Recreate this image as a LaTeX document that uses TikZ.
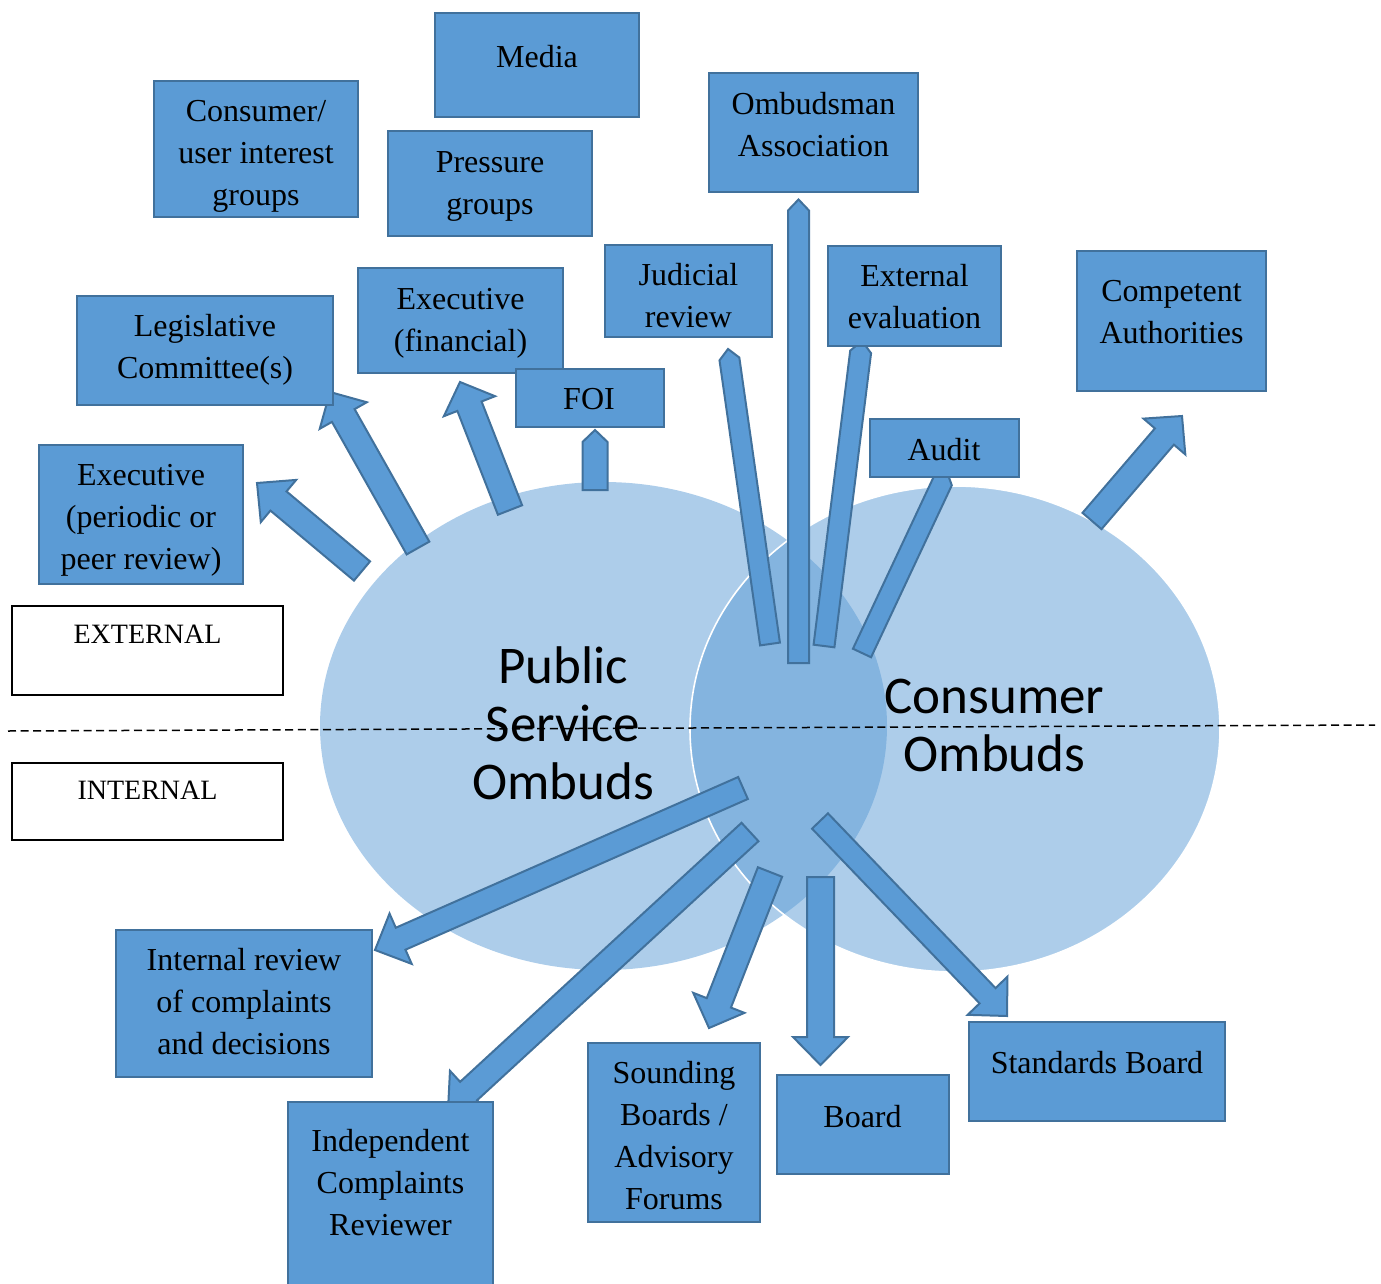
\documentclass[tikz,border=0pt]{standalone}
\usepackage{fontspec}
\setmainfont{Liberation Serif}
\newfontfamily\ombsans{Carlito}
\usetikzlibrary{shapes.geometric}
\definecolor{boxfill}{HTML}{5B9BD5}
\definecolor{boxline}{HTML}{41719C}
\tikzset{
  box/.style={draw=boxline, fill=boxfill, line width=1.1pt, inner sep=0pt},
  side/.style={draw=black, fill=white, line width=0.8pt, inner sep=0pt},
  lbl/.style={align=center, inner sep=0pt, yshift=-0.75pt, font=\fontsize{16}{21}\selectfont},
  sidelbl/.style={inner sep=0pt, font=\fontsize{14}{17}\selectfont},
  bigtxt/.style={align=center, inner sep=0pt, font=\ombsans\fontsize{26.5}{29}\selectfont},
  blk/.style={draw=boxline, fill=boxfill, line width=1pt, line join=miter},
  dashline/.style={draw=black, line width=0.75pt, dash pattern=on 4pt off 2.3pt},
}
\newcommand\bbox[6][box]{%
  \pgfmathsetmacro\bxW{(#5-#3)*0.5-1}%
  \pgfmathsetmacro\bxH{(#6-#4)*0.5-1}%
  \node[#1, minimum width=\bxW pt, minimum height=\bxH pt] (#2) at ({(#3+#5)/2},{(#4+#6)/2}) {};}
\newcommand\blockarrow[5]{%
  \path (#1); \pgfgetlastxy{\arTxd}{\arTyd}%
  \path (#2); \pgfgetlastxy{\arHxd}{\arHyd}%
  \pgfmathsetmacro\arTx{\arTxd}%
  \pgfmathsetmacro\arTy{\arTyd}%
  \pgfmathsetmacro\arHx{\arHxd}%
  \pgfmathsetmacro\arHy{\arHyd}%
  \pgfmathsetmacro\arL{veclen(\arHx-\arTx,\arHy-\arTy)}%
  \pgfmathsetmacro\arUx{(\arHx-\arTx)/\arL}%
  \pgfmathsetmacro\arUy{(\arHy-\arTy)/\arL}%
  \pgfmathsetmacro\arW{#3*0.25}%
  \pgfmathsetmacro\arV{#4*0.25}%
  \pgfmathsetmacro\arBx{\arTx+(\arUx)*(\arL-#5*0.5)}%
  \pgfmathsetmacro\arBy{\arTy+(\arUy)*(\arL-#5*0.5)}%
  \begin{scope}[x=1pt,y=1pt]
  \draw[blk] ({\arTx-(\arUy)*\arW},{\arTy+(\arUx)*\arW})
    -- ({\arBx-(\arUy)*\arW},{\arBy+(\arUx)*\arW})
    -- ({\arBx-(\arUy)*\arV},{\arBy+(\arUx)*\arV})
    -- (\arHx,\arHy)
    -- ({\arBx+(\arUy)*\arV},{\arBy-(\arUx)*\arV})
    -- ({\arBx+(\arUy)*\arW},{\arBy-(\arUx)*\arW})
    -- ({\arTx+(\arUy)*\arW},{\arTy-(\arUx)*\arW}) -- cycle;
  \end{scope}%
}
\begin{document}
\begin{tikzpicture}[x=0.5pt,y=-0.5pt]
\useasboundingbox (0,0) rectangle (1381,1284);
% circles
\node[ellipse, fill=boxfill, fill opacity=0.5, inner sep=0pt, minimum width=283.5pt, minimum height=244pt] (pso) at (603.5,726) {};
\node[ellipse, draw=white, line width=0.8pt, fill=boxfill, fill opacity=0.5, draw opacity=1, inner sep=0pt, minimum width=265pt, minimum height=243pt] (co) at (955,729) {};
% divider
\coordinate (dl) at (8,731);
\coordinate (dr) at (1375,725);
\draw[dashline] (dl) -- (dr);
% arrow ends
\coordinate (epT) at (362,571);   \coordinate (epH) at (257,483);
\coordinate (lgT) at (418,548);   \coordinate (lgH) at (330,392);
\coordinate (efT) at (510,510);   \coordinate (efH) at (460,382);
\coordinate (foT) at (595,490);   \coordinate (foH) at (595,430);
\coordinate (jrT) at (770,644);   \coordinate (jrH) at (728,349);
\coordinate (oaT) at (798.5,663); \coordinate (oaH) at (798.5,199.5);
\coordinate (eeT) at (824,646);   \coordinate (eeH) at (862,341);
\coordinate (auT) at (862,653);   \coordinate (auH) at (947,472);
\coordinate (caT) at (1092,521);  \coordinate (caH) at (1182,416);
\coordinate (irT) at (743,788);   \coordinate (irH) at (375,950);
\coordinate (icT) at (750,832);   \coordinate (icH) at (448,1110);
\coordinate (sbT) at (770,872);   \coordinate (sbH) at (709,1028);
\coordinate (bdT) at (820.5,877); \coordinate (bdH) at (820.5,1065);
\coordinate (stT) at (820,821);   \coordinate (stH) at (1007,1016);
\blockarrow{epT}{epH}{25}{55}{28}
\blockarrow{lgT}{lgH}{26}{54}{27}
\blockarrow{efT}{efH}{26}{55}{26}
\blockarrow{foT}{foH}{25}{25}{12}
\blockarrow{jrT}{jrH}{20}{20}{10}
\blockarrow{oaT}{oaH}{21}{21}{11}
\blockarrow{eeT}{eeH}{21}{21}{11}
\blockarrow{auT}{auH}{20}{20}{10}
\blockarrow{caT}{caH}{25}{55}{27}
\blockarrow{irT}{irH}{24}{55}{28}
\blockarrow{icT}{icH}{25}{55}{28}
\blockarrow{sbT}{sbH}{26}{55}{27}
\blockarrow{bdT}{bdH}{27}{55}{28}
\blockarrow{stT}{stH}{22}{55}{28}
% boxes
\bbox{media}{434}{12}{640}{118}
\bbox{consumer}{153}{80}{359}{218}
\bbox{pressure}{387}{130}{593}{237}
\bbox{ombassoc}{708}{72}{919}{193}
\bbox{judicial}{604}{244}{773}{338}
\bbox{exteval}{827}{245}{1002}{347}
\bbox{competent}{1076}{250}{1267}{392}
\bbox{legis}{76}{295}{334}{406}
\bbox{execfin}{357}{267}{564}{374}
\bbox{foi}{515}{368}{665}{428}
\bbox{audit}{869}{418}{1020}{478}
\bbox{execper}{38}{444}{244}{585}
\bbox[side]{external}{11}{605}{284}{696}
\bbox[side]{internal}{11}{762}{284}{841}
\bbox{intreview}{115}{929}{373}{1078}
\bbox{indep}{287}{1101}{494}{1286}
\bbox{sounding}{587}{1042}{761}{1223}
\bbox{board}{776}{1074}{950}{1175}
\bbox{standards}{968}{1021}{1226}{1122}
% labels
\node[lbl] (mediaT) at (537,58) {\strut Media};
\node[lbl] (consumerT) at (256,154) {\strut Consumer/\\\strut user interest\\\strut groups};
\node[lbl] (pressureT) at (490,184) {\strut Pressure\\\strut groups};
\node[lbl] (ombassocT) at (813.5,126) {\strut Ombudsman\\\strut Association};
\node[lbl] (judicialT) at (688.5,297) {\strut Judicial\\\strut review};
\node[lbl] (extevalT) at (914.5,298) {\strut External\\\strut evaluation};
\node[lbl] (competentT) at (1171.5,313) {\strut Competent\\\strut Authorities};
\node[lbl] (legisT) at (205,348) {\strut Legislative\\\strut Committee(s)};
\node[lbl] (execfinT) at (460.5,321) {\strut Executive\\\strut (financial)};
\node[lbl] (foiT) at (589,400) {\strut FOI};
\node[lbl] (auditT) at (944,451) {\strut Audit};
\node[lbl] (execperT) at (141,518) {\strut Executive\\\strut (periodic or\\\strut peer review)};
\node[sidelbl] (externalT) at (147.5,636.5) {\strut EXTERNAL};
\node[sidelbl] (internalT) at (147.5,792.5) {\strut INTERNAL};
\node[lbl] (intreviewT) at (244,1003) {\strut Internal review\\\strut of complaints\\\strut and decisions};
\node[lbl] (indepT) at (390.5,1184) {\strut Independent\\\strut Complaints\\\strut Reviewer};
\node[lbl] (soundingT) at (674,1137) {\strut Sounding\\\strut Boards /\\\strut Advisory\\\strut Forums};
\node[lbl] (boardT) at (862.5,1118) {\strut Board};
\node[lbl] (standardsT) at (1097,1064) {\strut Standards Board};
\node[bigtxt] (psoT) at (563,730) {\strut Public\\\strut Service\\\strut Ombuds};
\node[bigtxt] (coT) at (994.5,731) {\strut Consumer\\\strut Ombuds};
\end{tikzpicture}
\end{document}
